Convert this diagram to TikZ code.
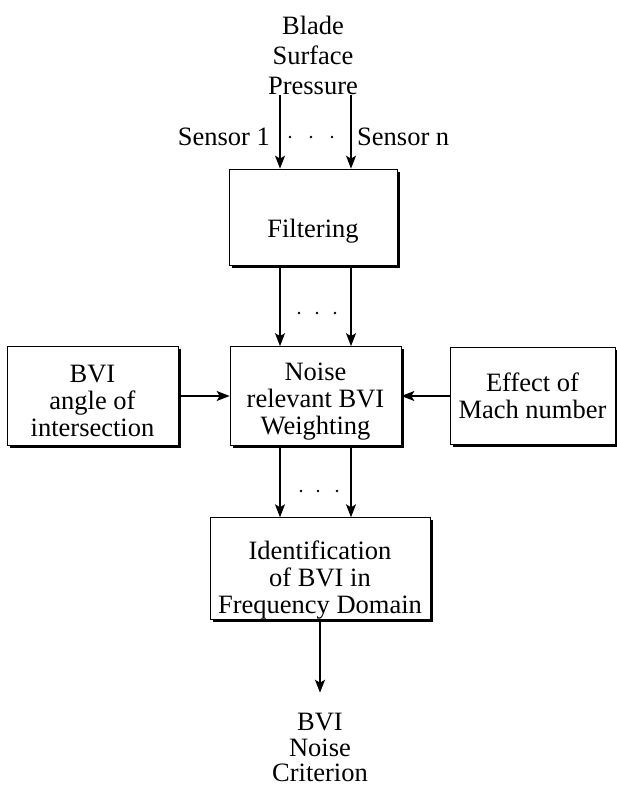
\documentclass[tikz,border=0pt]{standalone}
\usepackage{fontspec}
\setmainfont{Liberation Serif}
\usetikzlibrary{arrows.meta,shadows}
\newcommand\liftpad[1]{\rule{0pt}{#1}}
\begin{document}
\begin{tikzpicture}[x=1pt,y=-1pt,
  every node/.style={font=\fontsize{26.5}{27}\selectfont, align=center},
  blockbox/.style={draw=black, line width=0.7pt, fill=white, inner sep=0pt,
    drop shadow={shadow xshift=3pt, shadow yshift=-2.5pt, fill=black, opacity=1}},
  flowarrow/.style={line width=1.4pt, -{Stealth[length=13pt,width=10pt,inset=3pt]}}]
\useasboundingbox (0,0) rectangle (617,789);
\coordinate (colA) at (280,0);
\coordinate (colB) at (351,0);
% input and sensors
\node[inner sep=0pt, font=\fontsize{26.5}{30}\selectfont] (pressure) at (313,55.6) {Blade\\Surface\\Pressure};
\node[anchor=east, inner sep=0pt] (sensA) at (270,137) {Sensor 1};
\node[anchor=west, inner sep=0pt] (sensB) at (357,137) {Sensor n};
% blocks
\node[blockbox, minimum width=168pt, minimum height=96pt] (filter) at (313,217) {\liftpad{46pt}Filtering};
\node[blockbox, minimum width=171pt, minimum height=99pt] (angle) at (92.5,396) {\liftpad{28pt}BVI\\angle of\\intersection};
\node[blockbox, minimum width=171pt, minimum height=99pt] (weight) at (315.5,396) {\liftpad{28pt}Noise\\relevant BVI\\Weighting};
\node[blockbox, minimum width=165pt, minimum height=97pt] (mach) at (532.5,396) {Effect of\\Mach number};
\node[blockbox, minimum width=220pt, minimum height=91pt] (ident) at (320,568.5) {\liftpad{42pt}Identification\\of BVI in\\Frequency Domain};
\node[inner xsep=0pt, inner ysep=20.5pt, font=\fontsize{26.5}{25.5}\selectfont] (crit) at (320,747.75) {BVI\\Noise\\Criterion};
% connectors
\foreach \col in {colA,colB} {
  \draw[flowarrow] (pressure.south -| \col) -- (filter.north -| \col);
  \draw[flowarrow] (filter.south -| \col) -- (weight.north -| \col);
  \draw[flowarrow] (weight.south -| \col) -- (ident.north -| \col);
}
\draw[flowarrow] (angle.east) -- (weight.west);
\draw[flowarrow] (mach.west) -- (weight.east);
\draw[flowarrow] (ident.south) -- (crit.north);
% dots between the sensor lines
\foreach \x/\y in {290/137,311/137,332/137,299/313,317/313,335/313,301/491,318/491,337/491}
  \fill (\x,\y) circle (1.3pt);
\end{tikzpicture}
\end{document}
